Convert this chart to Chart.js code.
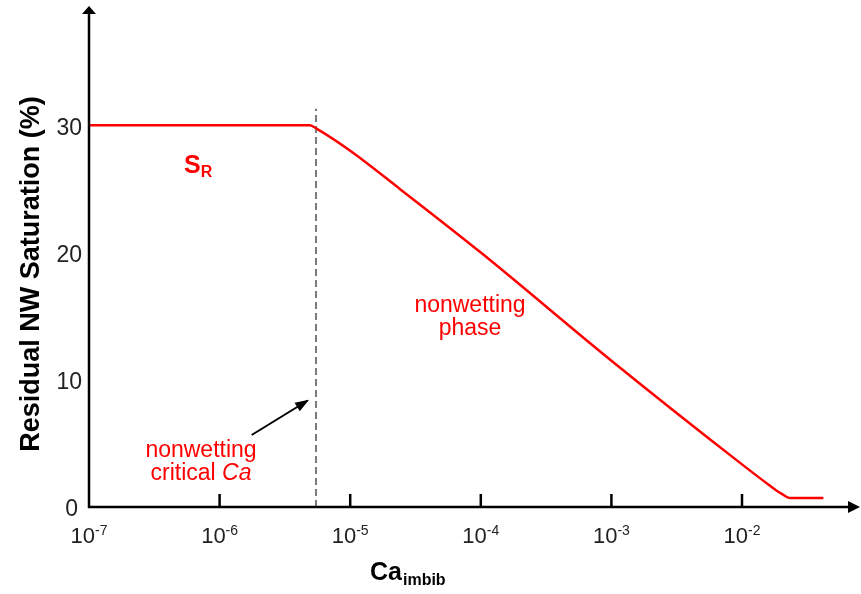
<!DOCTYPE html>
<html>
<head>
<meta charset="utf-8">
<script src="https://cdn.jsdelivr.net/npm/chart.js@4/dist/chart.umd.min.js"></script>
<style>
  html, body { margin: 0; padding: 0; background: #fff; }
  #wrap { width: 861px; height: 594px; }
</style>
</head>
<body>
<div id="wrap"><canvas id="c" width="861" height="594"></canvas></div>
<script>
// Residual non-wetting saturation vs. imbibition capillary number
const caValues    = [1e-7, 4.9e-6, 5.6e-6, 1e-5, 2.4e-5, 1e-4, 1e-3, 1e-2, 1.6e-2, 2.0e-2, 2.35e-2, 4.2e-2];
const residualSat = [30,   30,     29.7,   28.0, 25.0,   20.0, 11.5, 3.35, 1.75,   1.05,   0.7,     0.7];

// critical capillary number marker
const criticalCa = [5.47e-6, 5.47e-6];
const criticalSat = [0, 31.3];

// pointer from the label to the critical line
const pointerCa  = [1.76e-6, 4.7e-6];
const pointerSat = [5.66, 8.35];

const xTickExponents = [-7, -6, -5, -4, -3, -2];
const yTickValues = [0, 10, 20, 30];

const xMin = 1e-7, xMax = 0.0773, yMin = 0, yMax = 39.3;

const FONT = '"Liberation Sans", Arial, sans-serif';
const RED = '#ff0000';

const toPoints = (xs, ys) => xs.map((v, i) => ({ x: v, y: ys[i] }));

const overlay = {
  id: 'overlay',
  afterDatasetsDraw(chart) {
    const { ctx, chartArea: ca } = chart;
    const xs = chart.scales.x, ys = chart.scales.y;
    const ox = ca.left, oy = ca.bottom;
    ctx.save();

    // axes with arrowheads
    ctx.strokeStyle = '#000';
    ctx.fillStyle = '#000';
    ctx.lineWidth = 2.5;
    ctx.beginPath();
    ctx.moveTo(ox, oy + 1);
    ctx.lineTo(ox, ca.top + 6);
    ctx.moveTo(ox - 1, oy);
    ctx.lineTo(ca.right - 8, oy);
    ctx.stroke();
    ctx.beginPath();
    ctx.moveTo(ox, ca.top - 1);
    ctx.lineTo(ox - 7, ca.top + 7);
    ctx.lineTo(ox + 7, ca.top + 7);
    ctx.closePath();
    ctx.fill();
    ctx.beginPath();
    ctx.moveTo(ca.right + 2, oy);
    ctx.lineTo(ca.right - 10, oy - 6);
    ctx.lineTo(ca.right - 10, oy + 6);
    ctx.closePath();
    ctx.fill();

    // x ticks (inside) and labels 10^n
    ctx.lineWidth = 2.5;
    xTickExponents.forEach(e => {
      const px = xs.getPixelForValue(Math.pow(10, e));
      if (e > xTickExponents[0]) {
        ctx.beginPath();
        ctx.moveTo(px, oy);
        ctx.lineTo(px, oy - 13);
        ctx.stroke();
      }
      ctx.fillStyle = '#222';
      ctx.textBaseline = 'alphabetic';
      ctx.textAlign = 'left';
      ctx.font = '22px ' + FONT;
      const base = '10';
      const wb = ctx.measureText(base).width;
      ctx.font = '14px ' + FONT;
      const sup = String(e);
      const ws = ctx.measureText(sup).width;
      const start = px - (wb + ws) / 2;
      ctx.font = '22px ' + FONT;
      ctx.fillText(base, start, 543);
      ctx.font = '14px ' + FONT;
      ctx.fillText(sup, start + wb, 535);
    });

    // y tick labels
    ctx.font = '23px ' + FONT;
    ctx.fillStyle = '#222';
    ctx.textAlign = 'right';
    ctx.textBaseline = 'middle';
    yTickValues.forEach(v => {
      const py = ys.getPixelForValue(v);
      ctx.fillText(String(v), v === 0 ? ox - 11 : ox - 7, py + 3);
    });

    // x axis title: Ca_imbib
    ctx.textAlign = 'left';
    ctx.textBaseline = 'alphabetic';
    ctx.fillStyle = '#000';
    ctx.font = 'bold 25px ' + FONT;
    ctx.fillText('Ca', 370, 580);
    const wCa = ctx.measureText('Ca').width;
    ctx.font = 'bold 16px ' + FONT;
    ctx.fillText('imbib', 370 + wCa + 1, 585);

    // y axis title
    ctx.save();
    ctx.translate(39, 274);
    ctx.rotate(-Math.PI / 2);
    ctx.font = 'bold 27px ' + FONT;
    ctx.textAlign = 'center';
    ctx.fillText('Residual NW Saturation (%)', 0, 0);
    ctx.restore();

    // S_R label
    ctx.fillStyle = RED;
    ctx.textAlign = 'left';
    ctx.font = 'bold 25px ' + FONT;
    ctx.fillText('S', 184, 173);
    const wS = ctx.measureText('S').width;
    ctx.font = 'bold 16px ' + FONT;
    ctx.fillText('R', 184 + wS, 177);

    // nonwetting phase label
    ctx.font = '23px ' + FONT;
    ctx.textAlign = 'center';
    ctx.fillText('nonwetting', 470, 312);
    ctx.fillText('phase', 470, 335);

    // nonwetting critical Ca label
    ctx.fillText('nonwetting', 201, 457);
    ctx.textAlign = 'left';
    ctx.font = '23px ' + FONT;
    const t1 = 'critical ';
    const w1 = ctx.measureText(t1).width;
    ctx.font = 'italic 23px ' + FONT;
    const w2 = ctx.measureText('Ca').width;
    const sx = 201 - (w1 + w2) / 2;
    ctx.font = '23px ' + FONT;
    ctx.fillText(t1, sx, 480);
    ctx.font = 'italic 23px ' + FONT;
    ctx.fillText('Ca', sx + w1, 480);

    // pointer arrowhead
    const ax0 = xs.getPixelForValue(pointerCa[0]), ay0 = ys.getPixelForValue(pointerSat[0]);
    const ax1 = xs.getPixelForValue(pointerCa[1]), ay1 = ys.getPixelForValue(pointerSat[1]);
    const ang = Math.atan2(ay1 - ay0, ax1 - ax0);
    const hl = 12, hw = 5;
    ctx.fillStyle = '#000';
    ctx.beginPath();
    ctx.moveTo(ax1 + 2 * Math.cos(ang), ay1 + 2 * Math.sin(ang));
    ctx.lineTo(ax1 - hl * Math.cos(ang) + hw * Math.sin(ang), ay1 - hl * Math.sin(ang) - hw * Math.cos(ang));
    ctx.lineTo(ax1 - hl * Math.cos(ang) - hw * Math.sin(ang), ay1 - hl * Math.sin(ang) + hw * Math.cos(ang));
    ctx.closePath();
    ctx.fill();

    ctx.restore();
  }
};

new Chart(document.getElementById('c'), {
  type: 'line',
  data: {
    datasets: [
      {
        data: toPoints(caValues, residualSat),
        borderColor: RED,
        borderWidth: 2.5,
        pointRadius: 0,
        cubicInterpolationMode: 'monotone',
        fill: false
      },
      {
        data: toPoints(criticalCa, criticalSat),
        borderColor: '#7a7a7a',
        borderWidth: 2,
        borderDash: [7, 4],
        pointRadius: 0,
        fill: false
      },
      {
        data: toPoints(pointerCa, pointerSat),
        borderColor: '#000',
        borderWidth: 2,
        pointRadius: 0,
        fill: false
      }
    ]
  },
  options: {
    responsive: false,
    animation: false,
    events: [],
    layout: { padding: { left: 89, top: 7, right: 3, bottom: 87 } },
    plugins: { legend: { display: false }, tooltip: { enabled: false }, title: { display: false } },
    scales: {
      x: { type: 'logarithmic', min: xMin, max: xMax, display: false },
      y: { type: 'linear', min: yMin, max: yMax, display: false }
    }
  },
  plugins: [overlay]
});
</script>
</body>
</html>
